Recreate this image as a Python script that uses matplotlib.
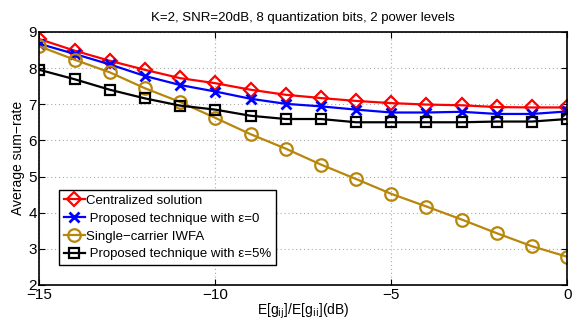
import matplotlib
matplotlib.use("Agg")
from matplotlib import pyplot as plt

plt.rcParams['font.family'] = ['Liberation Sans', 'DejaVu Sans']

# данные
x_db = [-15, -14, -13, -12, -11, -10, -9, -8, -7, -6, -5, -4, -3, -2, -1, 0]
centralized = [8.80, 8.48, 8.20, 7.95, 7.72, 7.58, 7.40, 7.26, 7.17, 7.09, 7.03, 6.99, 6.97, 6.92, 6.91, 6.91]
proposed_eps0 = [8.67, 8.39, 8.10, 7.78, 7.53, 7.35, 7.15, 7.01, 6.94, 6.85, 6.77, 6.77, 6.79, 6.73, 6.73, 6.80]
iwfa = [8.60, 8.23, 7.88, 7.44, 7.06, 6.62, 6.17, 5.77, 5.33, 4.93, 4.52, 4.17, 3.81, 3.43, 3.07, 2.78]
proposed_eps5 = [7.95, 7.69, 7.40, 7.16, 6.96, 6.85, 6.68, 6.59, 6.59, 6.50, 6.50, 6.50, 6.50, 6.52, 6.52, 6.59]

labels = ['Centralized solution',
          ' Proposed technique with \u03b5=0',
          'Single\u2212carrier IWFA',
          ' Proposed technique with \u03b5=5%']

fig = plt.figure(figsize=(5.8, 3.22), dpi=100)
ax = fig.add_axes([0.068, 0.115, 0.910, 0.786])

lw = 1.6
ax.plot(x_db, centralized, color='red', lw=lw, marker='D', ms=7.5, mfc='none', mew=1.6, label=labels[0])
ax.plot(x_db, proposed_eps0, color='blue', lw=lw, marker='x', ms=7, mew=2, label=labels[1])
ax.plot(x_db, iwfa, color='#b8860b', lw=lw, marker='o', ms=9, mfc='none', mew=1.6, label=labels[2])
ax.plot(x_db, proposed_eps5, color='black', lw=lw, marker='s', ms=6.5, mfc='none', mew=1.6, label=labels[3])

ax.set_xlim(-15, 0)
ax.set_ylim(2, 9)
ax.set_xticks([-15, -10, -5, 0])
ax.set_xticklabels(['\u221215', '\u221210', '\u22125', '0'])
ax.set_yticks(range(2, 10))
ax.tick_params(direction='in', top=True, right=True, labelsize=11, length=4, pad=2)
ax.grid(True, linestyle=(0, (1, 2.5)), color='#aaaaaa', linewidth=0.8)
for s in ax.spines.values():
    s.set_linewidth(1.2)

ax.set_title('K=2, SNR=20dB, 8 quantization bits, 2 power levels', fontsize=9.5, pad=8)
ax.set_xlabel('E[g$_{\\rm ij}$]/E[g$_{\\rm ii}$](dB)', fontsize=10, labelpad=0)
ax.set_ylabel('Average sum\u2212rate', fontsize=10, labelpad=2)

leg = ax.legend(loc='lower left', bbox_to_anchor=(0.037, 0.079), fontsize=9.5,
                fancybox=False, framealpha=1, edgecolor='black',
                handlelength=1.6, handletextpad=0.1, borderpad=0.35, labelspacing=0.42,
                borderaxespad=0)
leg.get_frame().set_linewidth(1.0)

fig.savefig('out.png', dpi=100)
